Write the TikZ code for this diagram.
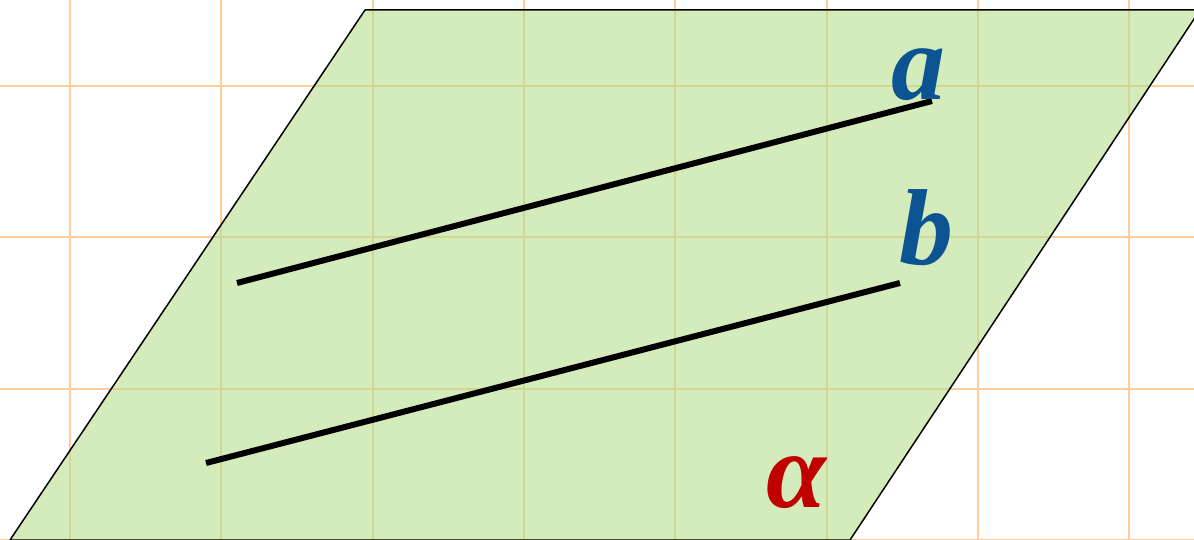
\documentclass[tikz,border=0pt]{standalone}
\usepackage{fontspec}
\setmainfont{Liberation Serif}
\usetikzlibrary{positioning}

\definecolor{gridorange}{RGB}{255,204,153}
\definecolor{planegreen}{RGB}{183,222,143}
\definecolor{lineblue}{RGB}{11,83,145}
\definecolor{planered}{RGB}{192,0,0}

\tikzset{
    gridline/.style={gridorange, line width=1pt},
    plane/.style={fill=planegreen, fill opacity=0.6, draw=black, line width=0.75pt, line join=round},
    linestroke/.style={black, line width=3pt},
    lbl/.style={anchor=base, inner sep=0pt, font=\fontsize{54}{60}\selectfont\bfseries\itshape}
}

\begin{document}
\begin{tikzpicture}[x=0.5pt, y=-0.5pt]

    \def\gap{151.3}

    \useasboundingbox (0,0) rectangle (1194,540);

    % ── Grid ─────────────────────────────────────────────────────────────────
    \foreach \i in {0,...,7} {
        \draw[gridline] ({70+\i*\gap}, 0) -- ({70+\i*\gap}, 540);
    }
    \foreach \j in {0,...,3} {
        \draw[gridline] (0, {86+\j*\gap}) -- (1194, {86+\j*\gap});
    }

    % ── Plane alpha ──────────────────────────────────────────────────────────
    \begin{scope}
        \clip (0,0) rectangle (1194,540);
        \filldraw[plane] (365,10) -- (1200,10) -- (850,540) -- (10,540) -- cycle;
    \end{scope}

    % ── Lines a and b ────────────────────────────────────────────────────────
    \coordinate (A1) at (237,283);
    \coordinate (A2) at (932,101);
    \coordinate (B1) at (206,463);
    \coordinate (B2) at (900,283);

    \draw[linestroke] (A1) -- (A2);
    \draw[linestroke] (B1) -- (B2);

    % ── Labels ───────────────────────────────────────────────────────────────
    \node[lbl, lineblue] (la) at (918,100) {a};
    \node[lbl, lineblue] (lb) at (926,264) {b};
    \node[lbl, planered] (lalpha) at (796,507) {α};

\end{tikzpicture}
\end{document}
